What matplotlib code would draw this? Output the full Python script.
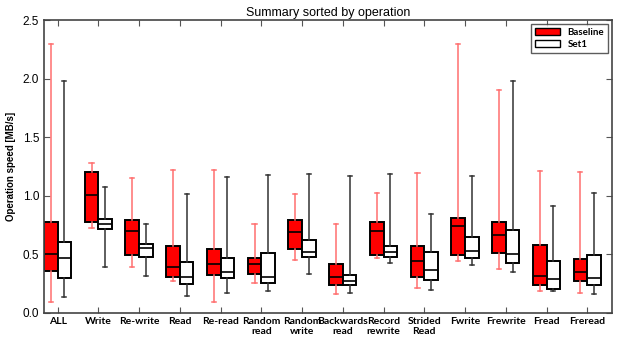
import matplotlib
matplotlib.use("Agg")
import matplotlib.pyplot as plt
from matplotlib.patches import Patch


CATEGORIES = [
    "ALL", "Write", "Re-write", "Read", "Re-read", "Random\nread", "Random\nwrite",
    "Backwards\nread", "Record\nrewrite", "Strided\nRead", "Fwrite", "Frewrite",
    "Fread", "Freread",
]

# Baseline: whisker low, Q1, median, Q3, whisker high
BASE_LO = [0.09, 0.72, 0.39, 0.27, 0.09, 0.25, 0.45, 0.16, 0.47, 0.21, 0.44, 0.37, 0.18, 0.17]
BASE_Q1 = [0.355, 0.776, 0.489, 0.304, 0.318, 0.327, 0.540, 0.236, 0.494, 0.304, 0.494, 0.511, 0.236, 0.270]
BASE_MED = [0.50, 1.005, 0.699, 0.392, 0.418, 0.418, 0.688, 0.301, 0.699, 0.437, 0.741, 0.665, 0.310, 0.344]
BASE_Q3 = [0.773, 1.199, 0.795, 0.565, 0.546, 0.466, 0.793, 0.415, 0.776, 0.565, 0.804, 0.770, 0.577, 0.460]
BASE_HI = [2.295, 1.275, 1.148, 1.222, 1.22, 0.756, 1.014, 0.756, 1.023, 1.196, 2.296, 1.904, 1.208, 1.202]

# Set1
SET1_LO = [0.136, 0.389, 0.313, 0.139, 0.170, 0.182, 0.327, 0.165, 0.420, 0.193, 0.409, 0.349, 0.182, 0.162]
SET1_Q1 = [0.292, 0.710, 0.475, 0.247, 0.292, 0.256, 0.475, 0.239, 0.477, 0.275, 0.463, 0.426, 0.205, 0.236]
SET1_MED = [0.463, 0.753, 0.551, 0.301, 0.344, 0.307, 0.520, 0.273, 0.517, 0.367, 0.528, 0.500, 0.290, 0.298]
SET1_Q3 = [0.605, 0.801, 0.588, 0.435, 0.463, 0.509, 0.622, 0.321, 0.571, 0.520, 0.645, 0.702, 0.437, 0.489]
SET1_HI = [1.983, 1.077, 0.759, 1.012, 1.162, 1.179, 1.182, 1.171, 1.185, 0.838, 1.171, 1.983, 0.912, 1.023]


def make_stats(lo, q1, med, q3, hi):
    return [
        {"whislo": a, "q1": b, "med": c, "q3": d, "whishi": e, "fliers": []}
        for a, b, c, d, e in zip(lo, q1, med, q3, hi)
    ]


def draw_series(ax, stats, positions, face, whisker_color):
    ax.bxp(
        stats,
        positions=positions,
        widths=1.0,
        patch_artist=True,
        showfliers=False,
        boxprops=dict(facecolor=face, edgecolor="black", linewidth=1.4),
        medianprops=dict(color="black", linewidth=1.2),
        whiskerprops=dict(color=whisker_color, linewidth=1.1, linestyle="-"),
        capprops=dict(color=whisker_color, linewidth=1.1),
        capwidths=0.3,
    )


def main() -> None:
    plt.rcParams["font.family"] = ["Liberation Sans", "DejaVu Sans"]

    fig = plt.figure(figsize=(6.18, 3.39), dpi=100)
    ax = fig.add_axes([0.0712, 0.078, 0.9186, 0.863])

    n = len(CATEGORIES)
    base_pos = [3 * i + 1 for i in range(n)]
    set1_pos = [3 * i + 2 for i in range(n)]
    tick_pos = [3 * i + 1.5 for i in range(n)]

    draw_series(ax, make_stats(BASE_LO, BASE_Q1, BASE_MED, BASE_Q3, BASE_HI),
                base_pos, "#ff0000", "#ff6f6f")
    draw_series(ax, make_stats(SET1_LO, SET1_Q1, SET1_MED, SET1_Q3, SET1_HI),
                set1_pos, "white", "#333333")

    ax.set_xlim(0.5, 42.3)
    ax.set_ylim(0, 2.5)
    ax.set_xticks(tick_pos)
    ax.set_xticklabels(CATEGORIES, fontsize=7.5, fontweight="bold", family="Lato")
    ax.set_yticks([0.0, 0.5, 1.0, 1.5, 2.0, 2.5])
    ax.set_yticklabels(["0.0", "0.5", "1.0", "1.5", "2.0", "2.5"], fontsize=8.5)
    ax.tick_params(direction="in", top=True, right=True, length=4, width=0.8,
                   colors="#555555", labelcolor="black")
    ax.tick_params(axis="x", pad=3)

    for spine in ax.spines.values():
        spine.set_color("#444444")
        spine.set_linewidth(1.2)

    ax.set_ylabel("Operation speed [MB/s]", fontsize=7, fontweight="bold", labelpad=5)
    ax.set_title("Summary sorted by operation", fontsize=9, pad=3)

    handles = [
        Patch(facecolor="#ff0000", edgecolor="black", label="Baseline"),
        Patch(facecolor="white", edgecolor="black", label="Set1"),
    ]
    leg = ax.legend(handles=handles, loc="upper right", fontsize=7, frameon=True,
                    fancybox=False, borderaxespad=0.4, handlelength=2.5,
                    handleheight=0.8, labelspacing=0.3, borderpad=0.4)
    leg.get_frame().set_edgecolor("#333333")
    leg.get_frame().set_linewidth(1.0)
    for text in leg.get_texts():
        text.set_fontweight("bold")
        text.set_family("Lato")

    fig.savefig("out.png", dpi=100)
    plt.close(fig)


if __name__ == "__main__":
    main()
